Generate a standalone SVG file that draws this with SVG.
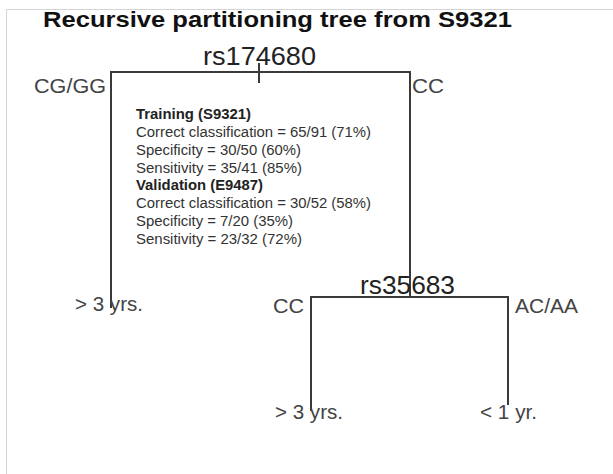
<svg xmlns="http://www.w3.org/2000/svg" width="613" height="474" viewBox="0 0 613 474">
  <style>
    .frame { fill: none; stroke: #d4d4d4; stroke-width: 1; }
    .edge { fill: none; stroke: #3a3a3a; stroke-width: 2; stroke-linecap: square; }
    .title { font-family: "Liberation Sans", Arial, sans-serif; font-weight: bold; font-size: 22px; fill: #111; }
    .split { font-family: "Liberation Sans", Arial, sans-serif; font-size: 25px; fill: #222; }
    .lab { font-family: "Liberation Sans", Arial, sans-serif; font-size: 19.5px; fill: #444; }
    .info { font-family: "Liberation Sans", Arial, sans-serif; font-size: 14px; fill: #333; }
    .infob { font-family: "Liberation Sans", Arial, sans-serif; font-size: 14px; font-weight: bold; fill: #222; }
  </style>
  <rect x="0" y="0" width="613" height="474" fill="#ffffff"/>
  <path class="frame" d="M6.5 474 V9.5 H613"/>
  <text class="title" x="43" y="27" textLength="469" lengthAdjust="spacingAndGlyphs">Recursive partitioning tree from S9321</text>

  <g id="connectors">
    <path class="edge" d="M111 307 V72 H410 V297"/>
    <path class="edge" d="M311 410 V297 H508 V404"/>
    <text class="lab" x="34" y="93" textLength="72" lengthAdjust="spacingAndGlyphs">CG/GG</text>
    <text class="lab" x="412" y="93" textLength="32" lengthAdjust="spacingAndGlyphs">CC</text>
    <text class="lab" x="273" y="313" textLength="31" lengthAdjust="spacingAndGlyphs">CC</text>
    <text class="lab" x="515" y="313" textLength="63" lengthAdjust="spacingAndGlyphs">AC/AA</text>
  </g>

  <g id="node-rs174680">
    <text class="split" x="203" y="65" textLength="113" lengthAdjust="spacingAndGlyphs">rs174680</text>
    <path class="edge" d="M259 64 V82"/>
  </g>

  <g id="node-rs35683">
    <text class="split" x="360" y="294" textLength="95" lengthAdjust="spacingAndGlyphs">rs35683</text>
  </g>

  <g id="leaf-left">
    <text class="lab" x="75" y="311" textLength="68" lengthAdjust="spacingAndGlyphs">&gt; 3 yrs.</text>
  </g>
  <g id="leaf-cc">
    <text class="lab" x="275" y="419" textLength="68" lengthAdjust="spacingAndGlyphs">&gt; 3 yrs.</text>
  </g>
  <g id="leaf-acaa">
    <text class="lab" x="480" y="419" textLength="57" lengthAdjust="spacingAndGlyphs">&lt; 1 yr.</text>
  </g>

  <g id="stats">
    <text class="infob" x="136" y="119" textLength="115" lengthAdjust="spacingAndGlyphs">Training (S9321)</text>
    <text class="info" x="136" y="137" textLength="235" lengthAdjust="spacingAndGlyphs">Correct classification = 65/91 (71%)</text>
    <text class="info" x="136" y="155" textLength="165" lengthAdjust="spacingAndGlyphs">Specificity = 30/50 (60%)</text>
    <text class="info" x="136" y="173" textLength="166" lengthAdjust="spacingAndGlyphs">Sensitivity = 35/41 (85%)</text>
    <text class="infob" x="136" y="190" textLength="127" lengthAdjust="spacingAndGlyphs">Validation (E9487)</text>
    <text class="info" x="136" y="208" textLength="235" lengthAdjust="spacingAndGlyphs">Correct classification = 30/52 (58%)</text>
    <text class="info" x="136" y="226" textLength="157" lengthAdjust="spacingAndGlyphs">Specificity = 7/20 (35%)</text>
    <text class="info" x="136" y="244" textLength="166" lengthAdjust="spacingAndGlyphs">Sensitivity = 23/32 (72%)</text>
  </g>
</svg>
